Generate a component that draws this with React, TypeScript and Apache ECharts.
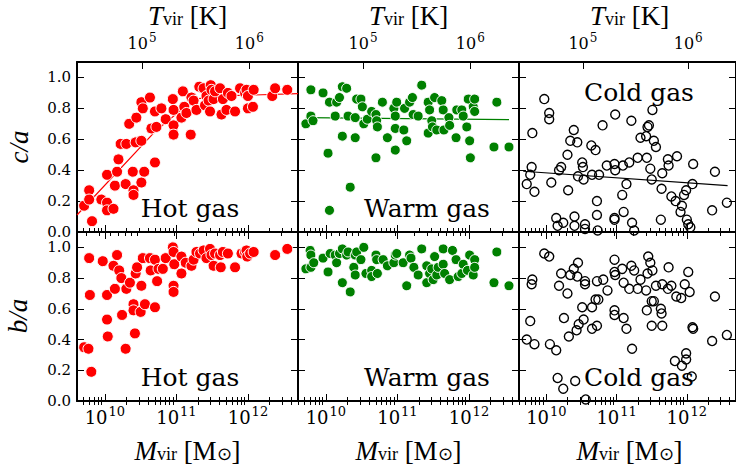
import React, { useEffect, useRef } from 'react';
import * as echarts from 'echarts';

// ---- axis ranges (log10 of virial mass) ----
const LOGM_MIN = 9.61;
const LOGM_MAX = 12.7;
// T_vir relation: T = 1e6 K at log M = 12.02, T ∝ M^(2/3)
const logT = (lm: number) => 6 + (lm - 12.02) / 1.5;

const massMajor = [10, 11, 12];
const tempMajor = [5, 6];
const yTicks = [0, 0.2, 0.4, 0.6, 0.8, 1.0];
const minorMult = [2, 3, 4, 5, 6, 7, 8, 9];

// ---- data: [log10 Mvir, axis ratio] ----
const hotCA = [
  [9.71, 0.17], [9.78, 0.27], [9.78, 0.21], [9.82, 0.07], [9.95, 0.21], [10.03, 0.19], [10.03, 0.14],
  [10.12, 0.15], [10.03, 0.37], [10.14, 0.30], [10.17, 0.39], [10.19, 0.47], [10.22, 0.57], [10.29, 0.31],
  [10.34, 0.70], [10.30, 0.57], [10.39, 0.39], [10.40, 0.27], [10.40, 0.24], [10.43, 0.58], [10.44, 0.74],
  [10.51, 0.59], [10.51, 0.84], [10.53, 0.80], [10.51, 0.32], [10.55, 0.39], [10.63, 0.87], [10.65, 0.67],
  [10.70, 0.78], [10.70, 0.45], [10.72, 0.68], [10.79, 0.80], [10.85, 0.73], [10.95, 0.86], [10.96, 0.79],
  [10.96, 0.69], [10.96, 0.63], [11.07, 0.74], [11.09, 0.91], [11.11, 0.81], [11.14, 0.77], [11.20, 0.63],
  [11.21, 0.87], [11.24, 0.85], [11.28, 0.79], [11.32, 0.94], [11.38, 0.93], [11.40, 0.82], [11.42, 0.88],
  [11.45, 0.85], [11.47, 0.78], [11.48, 0.95], [11.49, 0.92], [11.52, 0.86], [11.54, 0.91], [11.61, 0.93],
  [11.63, 0.76], [11.65, 0.86], [11.70, 0.79], [11.72, 0.90], [11.77, 0.88], [11.82, 0.78], [11.89, 0.93],
  [11.96, 0.90], [11.98, 0.92], [12.00, 0.88], [12.00, 0.80], [12.07, 0.81], [12.08, 0.92], [12.34, 0.88],
  [12.38, 0.93], [12.55, 0.92]
];
const warmCA = [
  [9.72, 0.70], [9.79, 0.92], [9.79, 0.75], [9.82, 0.72], [9.96, 0.90], [10.03, 0.51], [10.05, 0.84],
  [10.05, 0.14], [10.13, 0.75], [10.15, 0.84], [10.19, 0.87], [10.23, 0.62], [10.23, 0.94], [10.29, 0.93],
  [10.31, 0.75], [10.34, 0.29], [10.41, 0.61], [10.41, 0.74], [10.43, 0.86], [10.49, 0.86], [10.51, 0.81],
  [10.53, 0.70], [10.58, 0.73], [10.64, 0.78], [10.70, 0.76], [10.71, 0.72], [10.72, 0.68], [10.70, 0.48],
  [10.79, 0.84], [10.86, 0.61], [10.95, 0.80], [10.97, 0.75], [10.97, 0.67], [10.97, 0.53], [10.99, 0.84],
  [11.09, 0.66], [11.10, 0.80], [11.13, 0.59], [11.17, 0.84], [11.21, 0.87], [11.22, 0.76], [11.29, 0.75],
  [11.34, 0.95], [11.43, 0.84], [11.43, 0.64], [11.45, 0.79], [11.48, 0.72], [11.49, 0.68], [11.52, 0.87],
  [11.55, 0.66], [11.62, 0.85], [11.64, 0.79], [11.65, 0.66], [11.72, 0.74], [11.73, 0.69], [11.82, 0.61],
  [11.83, 0.79], [11.90, 0.79], [11.92, 0.75], [11.97, 0.68], [11.99, 0.86], [12.01, 0.59], [12.02, 0.48],
  [12.06, 0.81], [12.08, 0.86], [12.08, 0.78], [12.35, 0.55], [12.39, 0.84], [12.56, 0.55]
];
const coldCA = [
  [9.72, 0.31], [9.77, 0.37], [9.79, 0.42], [9.80, 0.64], [9.83, 0.26], [9.97, 0.86], [10.04, 0.77],
  [10.04, 0.73], [10.07, 0.32], [10.14, 0.09], [10.16, 0.04], [10.18, 0.40], [10.21, 0.42], [10.24, 0.06],
  [10.30, 0.50], [10.31, 0.27], [10.34, 0.59], [10.39, 0.66], [10.40, 0.10], [10.40, 0.04], [10.44, 0.58],
  [10.45, 0.36], [10.51, 0.45], [10.52, 0.42], [10.53, 0.34], [10.55, 0.02], [10.55, 0.05], [10.64, 0.56],
  [10.65, 0.37], [10.70, 0.53], [10.72, 0.20], [10.72, 0.11], [10.73, 0.01], [10.75, 0.37], [10.80, 0.69],
  [10.86, 0.43], [10.97, 0.09], [10.97, 0.08], [10.97, 0.44], [10.98, 0.76], [10.98, 0.40], [11.08, 0.24],
  [11.10, 0.13], [11.09, 0.43], [11.14, 0.31], [11.18, 0.45], [11.21, 0.72], [11.22, 0.06], [11.25, 0.01],
  [11.30, 0.48], [11.34, 0.61], [11.42, 0.62], [11.43, 0.48], [11.44, 0.68], [11.46, 0.69], [11.48, 0.41],
  [11.50, 0.34], [11.51, 0.79], [11.53, 0.59], [11.56, 0.55], [11.63, 0.08], [11.64, 0.28], [11.65, 0.38],
  [11.73, 0.47], [11.74, 0.43], [11.78, 0.23], [11.84, 0.20], [11.86, 0.49], [11.91, 0.13], [11.93, 0.17],
  [11.96, 0.24], [11.99, 0.27], [12.00, 0.08], [12.02, 0.05], [12.05, 0.03], [12.08, 0.31], [12.09, 0.44],
  [12.36, 0.14], [12.40, 0.39], [12.57, 0.19]
];
const hotBA = [
  [9.71, 0.35], [9.77, 0.34], [9.78, 0.93], [9.79, 0.69], [9.81, 0.19], [9.97, 0.91], [10.03, 0.69],
  [10.03, 0.53], [10.04, 0.42], [10.12, 0.88], [10.14, 0.73], [10.17, 0.95], [10.20, 0.85], [10.23, 0.80],
  [10.24, 0.56], [10.29, 0.34], [10.30, 0.73], [10.35, 0.77], [10.40, 0.63], [10.40, 0.59], [10.42, 0.44],
  [10.43, 0.83], [10.45, 0.87], [10.50, 0.58], [10.51, 0.75], [10.53, 0.93], [10.56, 0.63], [10.63, 0.93],
  [10.64, 0.85], [10.70, 0.92], [10.70, 0.61], [10.73, 0.78], [10.75, 0.86], [10.81, 0.86], [10.85, 0.93],
  [10.95, 1.00], [10.96, 0.97], [10.96, 0.75], [10.96, 0.71], [10.97, 0.89], [11.07, 0.94], [11.07, 0.83],
  [11.13, 0.90], [11.21, 0.88], [11.24, 0.92], [11.28, 0.97], [11.33, 0.96], [11.38, 0.98], [11.42, 0.93],
  [11.47, 0.99], [11.49, 0.95], [11.52, 0.88], [11.54, 0.96], [11.61, 0.95], [11.62, 0.87], [11.65, 0.97],
  [11.72, 0.96], [11.82, 0.87], [11.91, 0.96], [11.96, 0.97], [11.98, 0.98], [11.99, 0.94], [12.03, 0.96],
  [12.08, 0.97], [12.38, 0.95], [12.55, 0.99]
];
const warmBA = [
  [9.72, 0.86], [9.78, 0.98], [9.79, 0.95], [9.79, 0.87], [9.83, 0.90], [9.96, 0.93], [10.03, 0.84],
  [10.06, 0.96], [10.13, 0.95], [10.15, 0.90], [10.19, 0.96], [10.23, 0.77], [10.23, 0.99], [10.29, 0.95],
  [10.31, 0.97], [10.34, 0.71], [10.39, 0.87], [10.41, 0.95], [10.41, 0.82], [10.43, 0.97], [10.49, 0.92],
  [10.53, 1.00], [10.56, 0.83], [10.64, 0.85], [10.64, 0.81], [10.70, 0.95], [10.71, 0.92], [10.72, 0.83],
  [10.80, 0.92], [10.86, 0.88], [10.95, 0.90], [10.97, 0.95], [10.99, 0.96], [11.08, 0.90], [11.13, 0.75],
  [11.17, 0.95], [11.19, 0.93], [11.23, 0.87], [11.29, 0.82], [11.34, 0.99], [11.41, 0.88], [11.41, 0.77],
  [11.45, 0.83], [11.48, 0.86], [11.50, 0.79], [11.52, 0.94], [11.55, 0.82], [11.57, 0.87], [11.64, 0.99],
  [11.64, 0.89], [11.66, 0.83], [11.73, 0.79], [11.77, 0.98], [11.82, 0.92], [11.85, 0.81], [11.90, 0.83],
  [11.92, 0.89], [11.98, 0.85], [12.01, 0.95], [12.06, 0.82], [12.08, 0.92], [12.08, 0.87], [12.35, 0.77],
  [12.39, 0.97], [12.56, 0.75]
];
const coldBA = [
  [9.72, 0.40], [9.77, 0.52], [9.79, 0.76], [9.80, 0.79], [9.83, 0.37], [9.97, 0.96], [10.04, 0.94],
  [10.05, 0.37], [10.14, 0.33], [10.16, 0.15], [10.18, 0.75], [10.21, 0.83], [10.24, 0.08], [10.25, 0.54],
  [10.30, 0.70], [10.32, 0.42], [10.34, 0.82], [10.39, 0.86], [10.41, 0.13], [10.43, 0.46], [10.44, 0.81],
  [10.45, 0.90], [10.46, 0.50], [10.51, 0.61], [10.53, 0.53], [10.55, 0.78], [10.55, 0.76], [10.56, 0.01],
  [10.65, 0.61], [10.65, 0.47], [10.70, 0.66], [10.72, 0.78], [10.72, 0.49], [10.74, 0.66], [10.81, 0.79],
  [10.87, 0.72], [10.97, 0.59], [10.97, 0.56], [10.97, 0.92], [10.97, 0.84], [10.98, 0.82], [11.08, 0.86],
  [11.10, 0.54], [11.10, 0.77], [11.14, 0.47], [11.18, 0.73], [11.21, 0.88], [11.22, 0.34], [11.25, 0.85],
  [11.30, 0.73], [11.34, 0.79], [11.42, 0.72], [11.43, 0.59], [11.44, 0.83], [11.45, 0.94], [11.48, 0.90],
  [11.50, 0.49], [11.50, 0.65], [11.51, 0.85], [11.53, 0.65], [11.56, 0.75], [11.63, 0.60], [11.64, 0.57],
  [11.65, 0.76], [11.65, 0.49], [11.73, 0.73], [11.74, 0.87], [11.78, 0.75], [11.83, 0.26], [11.85, 0.68],
  [11.92, 0.67], [11.93, 0.23], [11.97, 0.76], [11.99, 0.31], [11.99, 0.27], [12.02, 0.84], [12.04, 0.71],
  [12.07, 0.16], [12.08, 0.48], [12.09, 0.47], [12.36, 0.39], [12.40, 0.68], [12.57, 0.43]
];

// fit lines (c/a vs log M)
const hotFit = [[9.61, 0.11], [10.7, 0.65], [11.25, 0.86], [11.6, 0.88], [12.7, 0.895]];
const warmFit = [[9.72, 0.74], [12.56, 0.727]];
const coldFit = [[9.67, 0.393], [12.58, 0.30]];

// ---- layout ----
const COL_LEFT = [77, 298, 519];
const PANEL_W = 221;
const ROW_TOP = [62, 232];
const PANEL_H = [170, 169];
const SERIF = 'DejaVu Serif';
const MATH = 'Liberation Serif';

function minorTicks(lo: number, hi: number) {
  const out: number[] = [];
  for (let d = Math.floor(lo); d <= Math.ceil(hi); d++) {
    for (const k of minorMult) {
      const v = d + Math.log10(k);
      if (v > lo && v < hi) out.push(v);
    }
  }
  return out;
}

const panels = [
  { row: 0, col: 0, data: hotCA, kind: 'hot', fit: hotFit, label: 'Hot gas', lx: 113, ly: 146 },
  { row: 0, col: 1, data: warmCA, kind: 'warm', fit: warmFit, label: 'Warm gas', lx: 129, ly: 146 },
  { row: 0, col: 2, data: coldCA, kind: 'cold', fit: coldFit, label: 'Cold gas', lx: 120, ly: 30 },
  { row: 1, col: 0, data: hotBA, kind: 'hot', fit: null, label: 'Hot gas', lx: 113, ly: 145 },
  { row: 1, col: 1, data: warmBA, kind: 'warm', fit: null, label: 'Warm gas', lx: 129, ly: 145 },
  { row: 1, col: 2, data: coldBA, kind: 'cold', fit: null, label: 'Cold gas', lx: 120, ly: 145 },
];

let measureCtx: CanvasRenderingContext2D | null = null;
function textWidth(text: string, size: number, family: string) {
  if (!measureCtx) measureCtx = document.createElement('canvas').getContext('2d');
  if (!measureCtx) return text.length * size * 0.62;
  measureCtx.font = `${size}px "${family}"`;
  return measureCtx.measureText(text).width;
}

function buildOption() {
  const grids: any[] = [];
  const xAxes: any[] = [];
  const yAxes: any[] = [];
  const series: any[] = [];
  const massMinor = minorTicks(LOGM_MIN, LOGM_MAX);
  const tMin = logT(LOGM_MIN);
  const tMax = logT(LOGM_MAX);
  const tempMinor = minorTicks(tMin, tMax);
  const black = { color: '#000', width: 1 };

  panels.forEach((p, i) => {
    grids.push({
      left: COL_LEFT[p.col], top: ROW_TOP[p.row], width: PANEL_W, height: PANEL_H[p.row],
      show: false, containLabel: false,
    });
    const base = (position: string, min: number, max: number) => ({
      gridIndex: i, type: 'value', min, max, position, splitLine: { show: false },
    });
    const major = (position: string, min: number, max: number, ticks: number[]) => ({
      ...base(position, min, max),
      axisLine: { show: true, onZero: false, lineStyle: { color: '#000', width: 2 } },
      axisTick: { show: true, inside: true, length: 7, customValues: ticks, lineStyle: black },
      axisLabel: { show: false },
    });
    const minor = (position: string, min: number, max: number, ticks: number[]) => ({
      ...base(position, min, max),
      axisLine: { show: false },
      axisTick: { show: true, inside: true, length: 4, customValues: ticks, lineStyle: black },
      axisLabel: { show: false },
    });
    xAxes.push(major('bottom', LOGM_MIN, LOGM_MAX, massMajor));
    xAxes.push(minor('bottom', LOGM_MIN, LOGM_MAX, massMinor));
    if (p.row === 0) {
      xAxes.push(major('top', tMin, tMax, tempMajor));
      xAxes.push(minor('top', tMin, tMax, tempMinor));
    } else {
      xAxes.push(major('top', LOGM_MIN, LOGM_MAX, massMajor));
      xAxes.push(minor('top', LOGM_MIN, LOGM_MAX, massMinor));
    }
    yAxes.push({
      ...major('left', 0, 1.1, yTicks),
      axisLabel: {
        show: p.col === 0, customValues: yTicks, margin: 6,
        formatter: (v: number) => v.toFixed(1),
        fontFamily: SERIF, fontSize: 15, lineHeight: 14, color: '#000',
      },
    });
    yAxes.push(major('right', 0, 1.1, yTicks));

    const style =
      p.kind === 'hot'
        ? { symbolSize: 11, itemStyle: { color: '#ff0000', borderColor: '#ffffff', borderWidth: 1, opacity: 1 } }
        : p.kind === 'warm'
        ? { symbolSize: 10, itemStyle: { color: '#008000', borderColor: '#ffffff', borderWidth: 1, opacity: 1 } }
        : { symbolSize: 9, itemStyle: { color: 'rgba(0,0,0,0)', borderColor: '#000000', borderWidth: 1.4, opacity: 1 } };
    const lineColor = p.kind === 'hot' ? '#ff0000' : p.kind === 'warm' ? '#008000' : '#000000';

    if (p.fit) {
      series.push({
        type: 'line', xAxisIndex: i * 4, yAxisIndex: i * 2, data: p.fit,
        symbol: 'none', showSymbol: false, lineStyle: { color: lineColor, width: 1.2 }, z: 1,
        silent: true,
      });
    }
    series.push({
      type: 'scatter', xAxisIndex: i * 4, yAxisIndex: i * 2, data: p.data,
      symbol: 'circle', ...style, z: 2, silent: true, clip: true,
    });
  });

  return {
    animation: false,
    backgroundColor: '#ffffff',
    grid: grids,
    xAxis: xAxes,
    yAxis: yAxes,
    series,
  };
}

// "10^n" label as two plain texts, centred on the tick pixel given by the axis
function powerLabel(px: number, cy: number, exp: number, baseSize: number, supSize: number, rise: number) {
  const wb = textWidth('10', baseSize, SERIF);
  const ws = textWidth(String(exp), supSize, SERIF);
  const start = px - (wb + ws + 1) / 2;
  return [
    {
      type: 'text', x: start, y: cy, z: 10,
      style: { text: '10', fontFamily: SERIF, fontSize: baseSize, fill: '#000', align: 'left', verticalAlign: 'middle' },
    },
    {
      type: 'text', x: start + wb + 1, y: cy - rise, z: 10,
      style: { text: String(exp), fontFamily: SERIF, fontSize: supSize, fill: '#000', align: 'left', verticalAlign: 'middle' },
    },
  ];
}

function buildGraphics(chart: echarts.ECharts) {
  const graphics: any[] = [];
  panels.forEach((p, i) => {
    graphics.push({
      type: 'text', x: COL_LEFT[p.col] + p.lx, y: ROW_TOP[p.row] + p.ly, z: 10,
      style: {
        text: p.label, fontFamily: SERIF, fontSize: 25, fill: '#000',
        align: 'center', verticalAlign: 'middle',
      },
    });
    if (p.row === 1) {
      massMajor.forEach((v) => {
        const px = chart.convertToPixel({ xAxisIndex: i * 4 } as any, v) as unknown as number;
        graphics.push(...powerLabel(px, ROW_TOP[1] + PANEL_H[1] + 16, v, 18, 13, 6));
      });
    } else {
      tempMajor.forEach((v) => {
        const px = chart.convertToPixel({ xAxisIndex: i * 4 + 2 } as any, v) as unknown as number;
        graphics.push(...powerLabel(px, ROW_TOP[0] - 19, v, 16, 12, 5));
      });
    }
  });

  const titleRich = {
    i: { fontFamily: MATH, fontStyle: 'italic', fontSize: 27, lineHeight: 24, fill: '#000' },
    r: { fontFamily: MATH, fontSize: 27, lineHeight: 24, fill: '#000' },
    s: { fontFamily: MATH, fontSize: 18, lineHeight: 8, fill: '#000', verticalAlign: 'bottom' },
  };
  [0, 1, 2].forEach((c) => {
    const cx = COL_LEFT[c] + PANEL_W / 2;
    graphics.push({
      type: 'text', x: cx, y: 16, z: 10,
      style: { text: '{i|T}{s|vir}{r| [K]}', rich: titleRich, align: 'center', verticalAlign: 'middle' },
    });
    graphics.push({
      type: 'text', x: cx, y: 451, z: 10,
      style: { text: '{i|M}{s|vir}{r| [M}{s|⊙}{r|]}', rich: titleRich, align: 'center', verticalAlign: 'middle' },
    });
  });
  graphics.push({
    type: 'text', x: 19, y: 147, rotation: Math.PI / 2, z: 10,
    style: { text: '{i|c/a}', rich: titleRich, align: 'center', verticalAlign: 'middle' },
  });
  graphics.push({
    type: 'text', x: 18, y: 316, rotation: Math.PI / 2, z: 10,
    style: { text: '{i|b/a}', rich: titleRich, align: 'center', verticalAlign: 'middle' },
  });
  return graphics;
}

export default function App() {
  const ref = useRef<HTMLDivElement>(null);
  useEffect(() => {
    if (!ref.current) return;
    const chart = echarts.init(ref.current, undefined, { renderer: 'svg' });
    chart.setOption(buildOption() as any);
    chart.setOption({ graphic: buildGraphics(chart) } as any);
    return () => chart.dispose();
  }, []);
  return (
    <div
      ref={ref}
      style={{ position: 'fixed', left: 0, top: 0, width: 736, height: 470, background: '#fff' }}
    />
  );
}
